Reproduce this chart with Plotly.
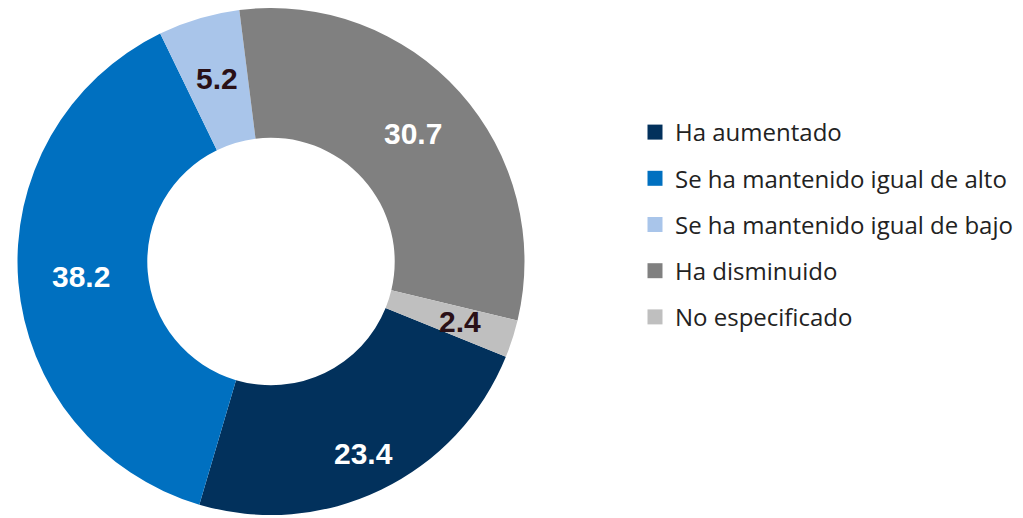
import math
import plotly.graph_objects as go

# ---- data ----
categories = ["Ha aumentado", "Se ha mantenido igual de alto",
              "Se ha mantenido igual de bajo", "Ha disminuido", "No especificado"]
values = [23.4, 38.2, 5.2, 30.7, 2.4]

# ---- style ----
colors = ["#02315C", "#0070C0", "#A9C5EA", "#808080", "#BFBFBF"]
label_colors = ["white", "white", "#2A1016", "white", "#2A1016"]
label_radius = [0.84, 0.75, 0.75, 0.75, 0.78]   # fraction of outer radius
ROTATION = 112.1   # degrees clockwise from 12 o'clock where first slice begins
HOLE = 0.488
W, H = 1023, 518
CX, CY_TOP = 263, 253   # pie centre in figure px (page has 8px body offset)
R = 254
CY = H - CY_TOP          # centre measured from bottom

fig = go.Figure()
fig.add_trace(go.Pie(
    labels=categories, values=values, sort=False, direction="clockwise",
    rotation=ROTATION, hole=HOLE,
    marker=dict(colors=colors, line=dict(width=0)),
    textinfo="none", showlegend=False, hoverinfo="label+value",
    domain=dict(x=[(CX - R) / W, (CX + R) / W],
                y=[max(0, (CY - R) / H), min(1, (CY + R) / H)]),
))

# legend via dummy traces for spacing control
for i, (c, col) in enumerate(zip(categories, colors)):
    fig.add_trace(go.Scatter(
        x=[None], y=[None], mode="markers", name=c,
        marker=dict(symbol="square", size=15, color=col),
        legendgroup=f"g{i}", showlegend=True,
    ))

# value labels at slice mid-angles
total = sum(values)
ang = ROTATION
for v, col, rf in zip(values, label_colors, label_radius):
    span = v / total * 360
    mid = math.radians(ang + span / 2)
    px = CX + R * rf * math.sin(mid)
    py = CY + R * rf * math.cos(mid)
    fig.add_annotation(
        x=px / W, y=py / H, xref="paper", yref="paper",
        text=f"<b>{v:.1f}</b>", showarrow=False,
        font=dict(family="Liberation Sans Narrow, Arial Narrow, Liberation Sans", size=30, color=col),
        xanchor="center", yanchor="middle",
    )
    ang += span

fig.update_layout(
    width=W, height=H,
    margin=dict(l=0, r=0, t=0, b=0),
    paper_bgcolor="white", plot_bgcolor="white",
    xaxis=dict(visible=False), yaxis=dict(visible=False),
    legend=dict(
        x=627 / W, y=1 - 102 / H, xanchor="left", yanchor="top",
        font=dict(family="Open Sans, Liberation Sans", size=24, color="#222222"),
        traceorder="grouped", tracegroupgap=12,
        itemsizing="trace", bgcolor="rgba(0,0,0,0)",
    ),
)

fig.write_html("out.html")
